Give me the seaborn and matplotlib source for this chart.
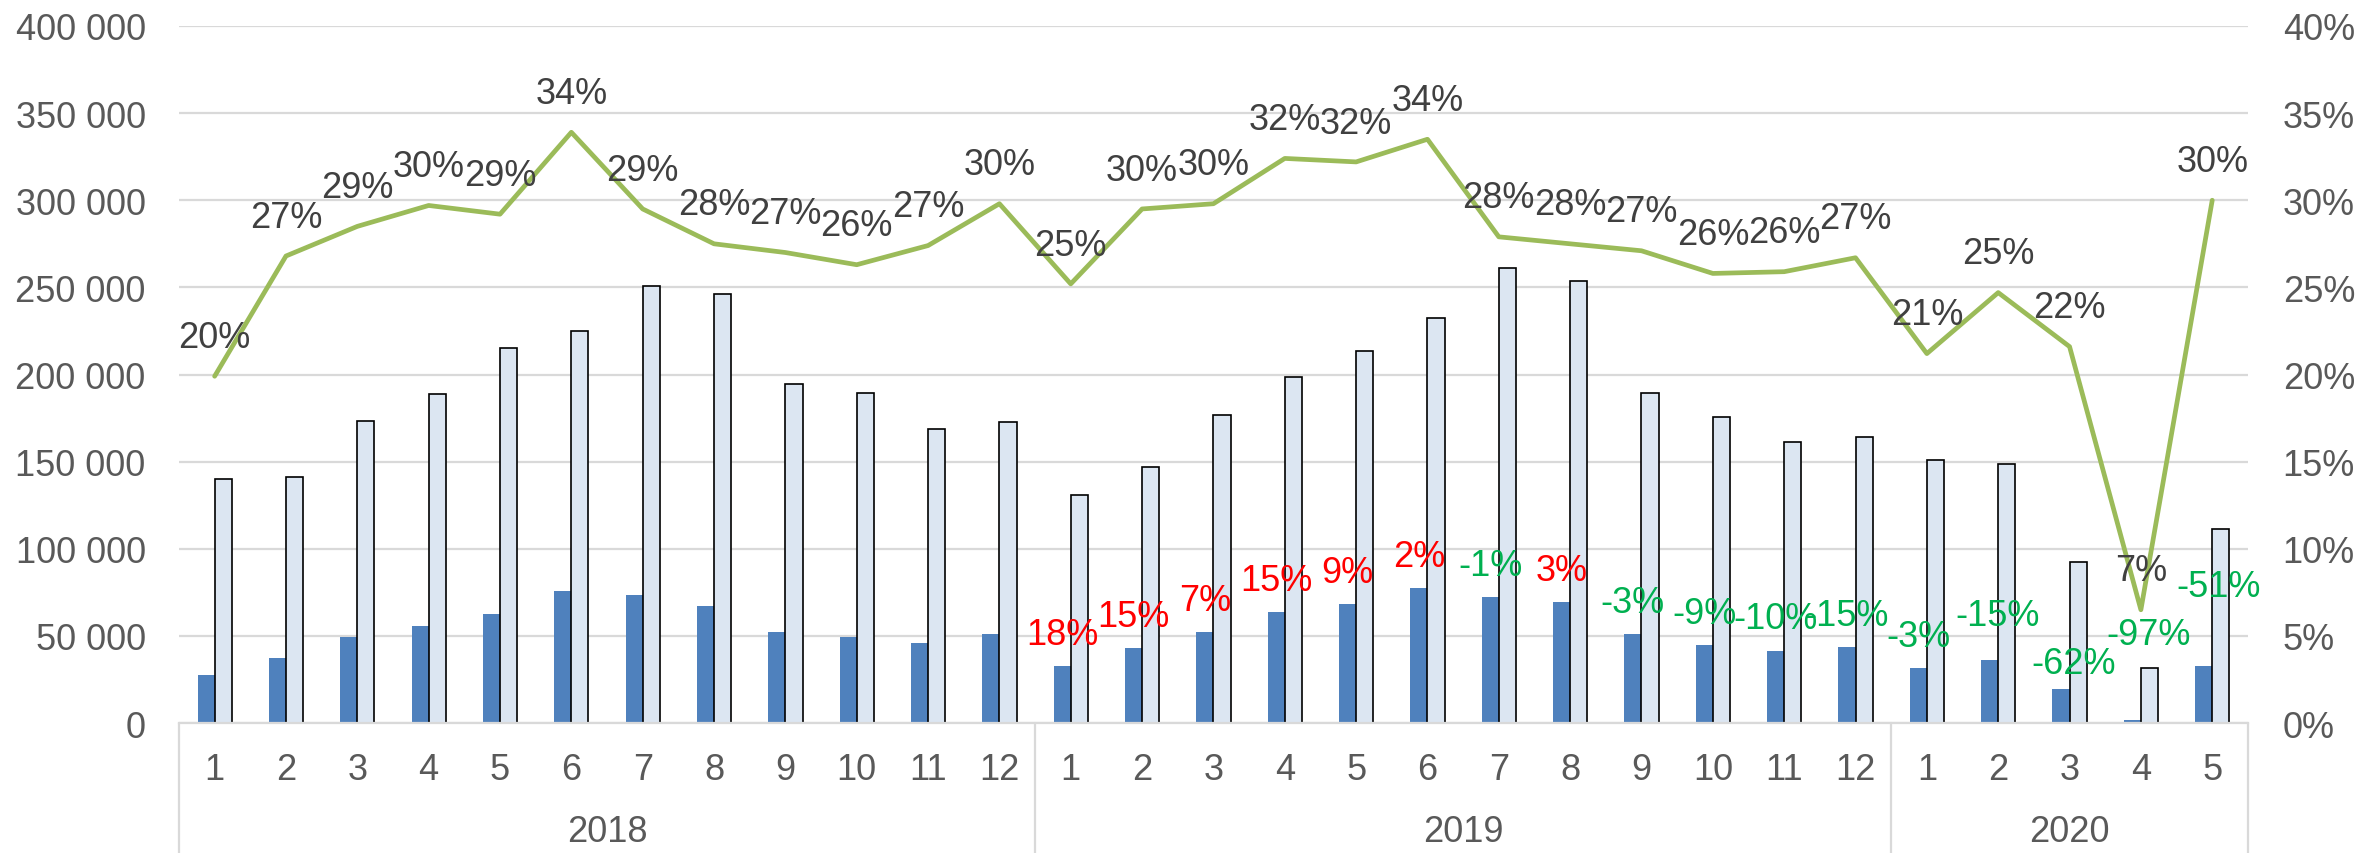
import numpy as np
import pandas as pd
import matplotlib
matplotlib.use("Agg")
import matplotlib.pyplot as plt
import matplotlib.transforms as mtransforms
from matplotlib.ticker import FuncFormatter, MultipleLocator
import seaborn as sns

sns.set_theme(style="white")
plt.rcParams['font.family'] = ['Liberation Sans', 'DejaVu Sans']

# ---- data ----
months = [1, 2, 3, 4, 5, 6, 7, 8, 9, 10, 11, 12,
          1, 2, 3, 4, 5, 6, 7, 8, 9, 10, 11, 12,
          1, 2, 3, 4, 5]
years = ['2018'] * 12 + ['2019'] * 12 + ['2020'] * 5

series_a = [27500, 37500, 49200, 55700, 62600, 75800, 73300, 67300, 52200, 49500, 45900, 51100,
            32700, 43000, 52200, 63700, 68300, 77500, 72300, 69400, 50900, 44800, 41500, 43400,
            31600, 36200, 19700, 1900, 32900]
series_b = [139900, 141000, 173300, 188600, 215400, 224800, 250600, 246000, 194500, 189400, 168900, 172900,
            130800, 147100, 176900, 198400, 213300, 232200, 261300, 253500, 189400, 175800, 161300, 164100,
            150700, 148800, 92600, 31700, 111300]
share = [19.9, 26.8, 28.5, 29.7, 29.2, 33.9, 29.5, 27.5, 27.0, 26.3, 27.4, 29.8,
         25.2, 29.5, 29.8, 32.4, 32.2, 33.5, 27.9, 27.5, 27.1, 25.8, 25.9, 26.7,
         21.2, 24.7, 21.6, 6.5, 30.0]
share_labels = [20, 27, 29, 30, 29, 34, 29, 28, 27, 26, 27, 30,
                25, 30, 30, 32, 32, 34, 28, 28, 27, 26, 26, 27,
                21, 25, 22, 7, 30]
# year-over-year change of the dark series (2019 onwards)
growth = [18, 15, 7, 15, 9, 2, -1, 3, -3, -9, -10, -15,
          -3, -15, -62, -97, -51]

# ---- styling ----
DARK = "#4F81BD"
LIGHT = "#DCE6F2"
GREEN = "#9BBB59"
TXT = "#595959"
LBL = "#404040"
GRID = "#D9D9D9"
FS = 26

n = len(months)
idx = np.arange(n)
df = pd.DataFrame({"idx": np.concatenate([idx, idx]),
                   "value": series_a + series_b,
                   "series": ["a"] * n + ["b"] * n})

fig = plt.figure(figsize=(23.61, 8.54), dpi=100)
ax = fig.add_axes([0.0758, 0.1522, 0.8763, 0.8162])

sns.barplot(data=df, x="idx", y="value", hue="series", palette=[DARK, LIGHT],
            width=0.48, saturation=1, legend=False, ax=ax)
for bar in ax.containers[0]:
    bar.set_linewidth(0)
for bar in ax.containers[1]:
    bar.set_edgecolor("black")
    bar.set_linewidth(1.2)

ax.set_xlim(-0.5, n - 0.5)
ax.set_ylim(0, 400000)
ax.yaxis.set_major_locator(MultipleLocator(50000))
ax.yaxis.set_major_formatter(FuncFormatter(lambda v, p: f"{int(v):,}".replace(",", " ")))
ax.grid(axis="y", color=GRID, linewidth=1.6)
ax.set_axisbelow(True)
for s in ["top", "right", "left"]:
    ax.spines[s].set_visible(False)
ax.spines["bottom"].set_color(GRID)
ax.spines["bottom"].set_linewidth(1.6)
ax.set_xticks(idx)
ax.set_xticklabels([str(m) for m in months])
ax.tick_params(axis="x", length=0, pad=21, labelsize=FS, labelcolor=TXT)
ax.tick_params(axis="y", length=0, pad=24, labelsize=FS, labelcolor=TXT)
ax.set_xlabel("")
ax.set_ylabel("")

# growth labels above dark bars (2019 onwards); the 2020 ones were moved by hand
nudge = {13: (6, 9), 14: (9, -5), 15: (12, 38), 16: (11, 34)}
for k, g in enumerate(growth):
    i = 12 + k
    dx, dy = nudge.get(k, (0, 0))
    ax.annotate(f"{g}%", xy=(i - 0.12, series_a[i]), xytext=(dx, 23 + dy),
                textcoords="offset points", ha="center", va="center",
                fontsize=FS, color="#FF0000" if g > 0 else "#00B050")

# share line on the right axis
ax2 = ax.twinx()
sns.lineplot(x=idx, y=share, color=GREEN, linewidth=3.4, ax=ax2)
ax2.set_ylim(0, 40)
ax2.yaxis.set_major_locator(MultipleLocator(5))
ax2.yaxis.set_major_formatter(FuncFormatter(lambda v, p: f"{int(v)}%"))
ax2.tick_params(axis="y", length=0, pad=25, labelsize=FS, labelcolor=TXT)
for s in ax2.spines.values():
    s.set_visible(False)
ax2.grid(False)
for i, (v, lab) in enumerate(zip(share, share_labels)):
    ax2.annotate(f"{lab}%", xy=(i, v), xytext=(0, 28), textcoords="offset points",
                 ha="center", va="center", fontsize=FS, color=LBL)

# two-level category axis: year groups
trans = mtransforms.blended_transform_factory(ax.transData, fig.transFigure)
bounds = [-0.5, 11.5, 23.5, n - 0.5]
for b in bounds:
    ax.plot([b, b], [0, 0.1522], transform=trans, color=GRID, lw=1.6, clip_on=False)
for y in ["2018", "2019", "2020"]:
    pos = [i for i in idx if years[i] == y]
    ax.text(np.mean(pos), 0.0246, y, transform=trans, ha="center", va="center",
            fontsize=FS, color=TXT)

fig.savefig("out.png", dpi=100)
